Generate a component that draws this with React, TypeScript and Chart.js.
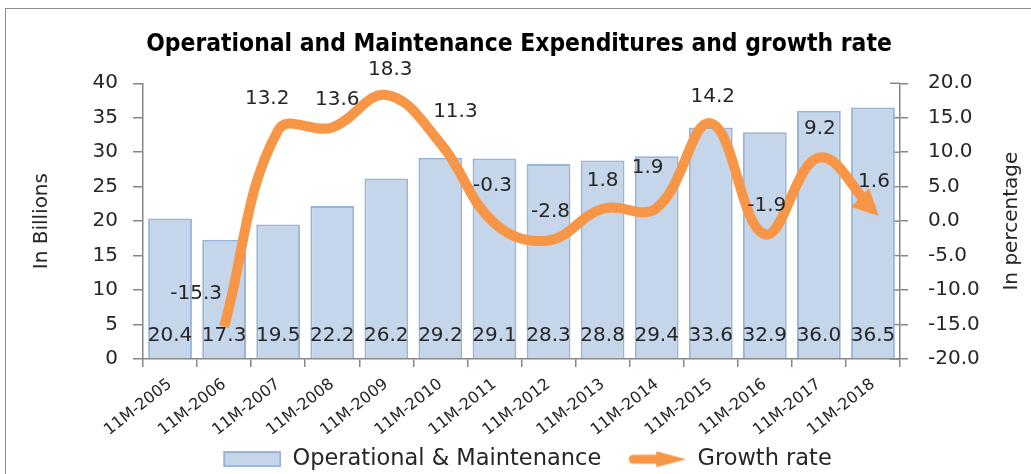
import React, { useEffect, useRef } from 'react';
import { Chart, registerables } from 'chart.js';

Chart.register(...registerables);

const categories = [
  '11M-2005', '11M-2006', '11M-2007', '11M-2008', '11M-2009', '11M-2010', '11M-2011',
  '11M-2012', '11M-2013', '11M-2014', '11M-2015', '11M-2016', '11M-2017', '11M-2018',
];
const expenditure = [20.4, 17.3, 19.5, 22.2, 26.2, 29.2, 29.1, 28.3, 28.8, 29.4, 33.6, 32.9, 36.0, 36.5];
const growthRate: (number | null)[] = [null, -15.3, 13.2, 13.6, 18.3, 11.3, -0.3, -2.8, 1.8, 1.9, 14.2, -1.9, 9.2, 1.6];
const billionTicks = [0, 5, 10, 15, 20, 25, 30, 35, 40];
const percentTicks = [-20, -15, -10, -5, 0, 5, 10, 15, 20];

const seriesNames = ['Operational & Maintenance', 'Growth rate'];
const chartTitle = 'Operational and Maintenance Expenditures and growth rate';
const leftAxisTitle = 'In Billions';
const rightAxisTitle = 'In percentage';

// label placement nudges (style only)
const growthLabelDX = [0, -28, -11, 5, 4, 15, -2, 2, 0, -9, 2, 2, 1, 1];
const growthLabelDY = [0, -33, -31, -28, -25, -31, -37, -29, -28, -40, -26, -28, -29, -28];

const FONT = "'DejaVu Sans', sans-serif";
const TITLE_FONT = "'DejaVu Sans Condensed', 'Liberation Sans Narrow', 'DejaVu Sans', sans-serif";
const TEXT = '#262626';
const AXIS = '#868686';
const BAR_FILL = '#C5D5EA';
const BAR_EDGE = '#98B5D9';
const ORANGE = '#F79646';

function makeBarIcon() {
  const c = document.createElement('canvas');
  c.width = 75; c.height = 16;
  const g = c.getContext('2d')!;
  g.fillStyle = BAR_FILL;
  g.fillRect(18, 1, 56, 14);
  g.strokeStyle = BAR_EDGE;
  g.lineWidth = 2;
  g.strokeRect(18, 1, 56, 14);
  return c;
}

function makeArrowIcon() {
  const c = document.createElement('canvas');
  c.width = 75; c.height = 18;
  const g = c.getContext('2d')!;
  g.strokeStyle = ORANGE;
  g.lineWidth = 9;
  g.lineCap = 'round';
  g.beginPath();
  g.moveTo(22, 9);
  g.lineTo(47, 9);
  g.stroke();
  g.fillStyle = ORANGE;
  g.beginPath();
  g.moveTo(45, 1);
  g.lineTo(75, 9);
  g.lineTo(45, 17);
  g.closePath();
  g.fill();
  return c;
}

const annotations = {
  id: 'annotations',
  beforeDatasetsDraw(chart: any) {
    const ctx = chart.ctx;
    const y1 = chart.scales.y1;
    ctx.save();
    ctx.strokeStyle = AXIS;
    ctx.lineWidth = 1.5;
    percentTicks.forEach((t) => {
      const py = y1.getPixelForValue(t);
      ctx.beginPath();
      ctx.moveTo(y1.left - 10, py);
      ctx.lineTo(y1.left, py);
      ctx.stroke();
    });
    ctx.restore();
  },
  afterDatasetsDraw(chart: any) {
    const ctx = chart.ctx;
    const barMeta = chart.getDatasetMeta(0);
    const lineMeta = chart.getDatasetMeta(1);
    const yL = chart.scales.y;
    const pts = lineMeta.data;
    const last = pts[pts.length - 1];
    ctx.save();
    let dx = last.x - (last.cp1x ?? pts[pts.length - 2].x);
    let dy = last.y - (last.cp1y ?? pts[pts.length - 2].y);
    const len = Math.hypot(dx, dy) || 1;
    dx /= len; dy /= len;
    const tipX = last.x + dx * 8;
    const tipY = last.y + dy * 8;
    const bx = tipX - dx * 26;
    const by = tipY - dy * 26;
    const px = -dy, py = dx;
    ctx.fillStyle = ORANGE;
    ctx.beginPath();
    ctx.moveTo(tipX, tipY);
    ctx.lineTo(bx + px * 13, by + py * 13);
    ctx.lineTo(bx - px * 13, by - py * 13);
    ctx.closePath();
    ctx.fill();

    ctx.font = `20px ${FONT}`;
    ctx.fillStyle = TEXT;
    ctx.textAlign = 'center';
    ctx.textBaseline = 'middle';
    const base = yL.getPixelForValue(0);
    barMeta.data.forEach((el: any, i: number) => {
      ctx.fillText(expenditure[i].toFixed(1), el.x, base - 23);
    });
    pts.forEach((el: any, i: number) => {
      const v = growthRate[i];
      if (v == null) return;
      ctx.fillText(v.toFixed(1), el.x + growthLabelDX[i], el.y + growthLabelDY[i]);
    });
    ctx.restore();
  },
  afterDraw(chart: any) {
    const ctx = chart.ctx;
    const a = chart.chartArea;
    ctx.save();
    ctx.font = `20px ${FONT}`;
    ctx.fillStyle = TEXT;
    ctx.textAlign = 'center';
    ctx.textBaseline = 'middle';
    ctx.translate(1012, (a.top + a.bottom) / 2);
    ctx.rotate(-Math.PI / 2);
    ctx.fillText(rightAxisTitle, 0, 0);
    ctx.restore();
  },
};

export default function App() {
  const canvasRef = useRef<HTMLCanvasElement | null>(null);

  useEffect(() => {
    const canvas = canvasRef.current;
    if (!canvas) return;
    const barIcon = makeBarIcon();
    const arrowIcon = makeArrowIcon();
    const chart = new Chart(canvas, {
      type: 'bar',
      data: {
        labels: categories,
        datasets: [
          {
            type: 'bar',
            label: seriesNames[0],
            data: expenditure,
            yAxisID: 'y',
            backgroundColor: BAR_FILL,
            borderColor: BAR_EDGE,
            borderWidth: 2,
            barPercentage: 0.81,
            categoryPercentage: 1,
            order: 1,
          },
          {
            type: 'line',
            label: seriesNames[1],
            data: growthRate,
            yAxisID: 'y1',
            borderColor: ORANGE,
            backgroundColor: ORANGE,
            borderWidth: 10,
            tension: 0.4,
            pointRadius: 0,
            pointHoverRadius: 0,
            fill: false,
            borderCapStyle: 'butt',
            borderJoinStyle: 'round',
            order: 0,
          },
        ] as any,
      },
      options: {
        responsive: false,
        animation: false,
        events: [],
        font: { family: FONT } as any,
        layout: { padding: { left: 8, right: 1, top: 12, bottom: -6.5 } },
        plugins: {
          tooltip: { enabled: false },
          title: {
            display: true,
            text: chartTitle,
            color: '#000',
            font: { size: 24.4, weight: 'bold', family: TITLE_FONT },
            padding: { top: 18, bottom: 24 },
          },
          legend: {
            position: 'bottom',
            labels: {
              usePointStyle: true,
              pointStyleWidth: 75,
              color: TEXT,
              padding: 10,
              font: { size: 22.5, family: FONT },
              generateLabels(ch: any) {
                const items = (Chart.defaults as any).plugins.legend.labels.generateLabels(ch);
                return items
                  .map((it: any) => ({
                    ...it,
                    pointStyle: it.datasetIndex === 0 ? barIcon : arrowIcon,
                  }))
                  .sort((a: any, b: any) => a.datasetIndex - b.datasetIndex);
              },
            },
          } as any,
        },
        scales: {
          x: {
            offset: true,
            grid: { offset: true, drawOnChartArea: false, tickLength: 8, color: AXIS, lineWidth: 1.5 },
            border: { color: AXIS, width: 1.5 },
            ticks: {
              autoSkip: false,
              minRotation: 38,
              maxRotation: 38,
              padding: 8,
              color: TEXT,
              font: { size: 16, family: FONT },
            },
            afterFit(s: any) { s.height = 79; },
          },
          y: {
            position: 'left',
            min: billionTicks[0],
            max: billionTicks[billionTicks.length - 1],
            grid: { drawOnChartArea: false, tickLength: 10, color: AXIS, lineWidth: 1.5 },
            border: { color: AXIS, width: 1.5 },
            ticks: {
              stepSize: billionTicks[1] - billionTicks[0],
              padding: 15,
              color: TEXT,
              font: { size: 20, family: FONT },
            },
            title: {
              display: true,
              text: leftAxisTitle,
              color: TEXT,
              font: { size: 20, family: FONT },
              padding: { top: 22, bottom: 0 },
            },
            afterFit(s: any) { s.width = 135; },
          },
          y1: {
            position: 'right',
            min: percentTicks[0],
            max: percentTicks[percentTicks.length - 1],
            grid: { drawOnChartArea: false, tickLength: 8, color: AXIS, lineWidth: 1.5 },
            border: { color: AXIS, width: 1.5 },
            ticks: {
              stepSize: percentTicks[1] - percentTicks[0],
              padding: 20,
              color: TEXT,
              font: { size: 20, family: FONT },
              callback: (v: any) => Number(v).toFixed(1),
            },
            afterFit(s: any) { s.width = 130; },
          },
        },
      } as any,
      plugins: [annotations],
    });
    return () => chart.destroy();
  }, []);

  return (
    <div style={{ position: 'fixed', left: 0, top: 0, width: 1031, height: 474, overflow: 'hidden', background: '#fff' }}>
      <div style={{ position: 'absolute', left: 5, top: 8, width: 1100, height: 600, border: '1.5px solid #8c8c8c' }} />
      <canvas ref={canvasRef} width={1031} height={474} style={{ position: 'absolute', left: 0, top: 0, width: 1031, height: 474 }} />
    </div>
  );
}
